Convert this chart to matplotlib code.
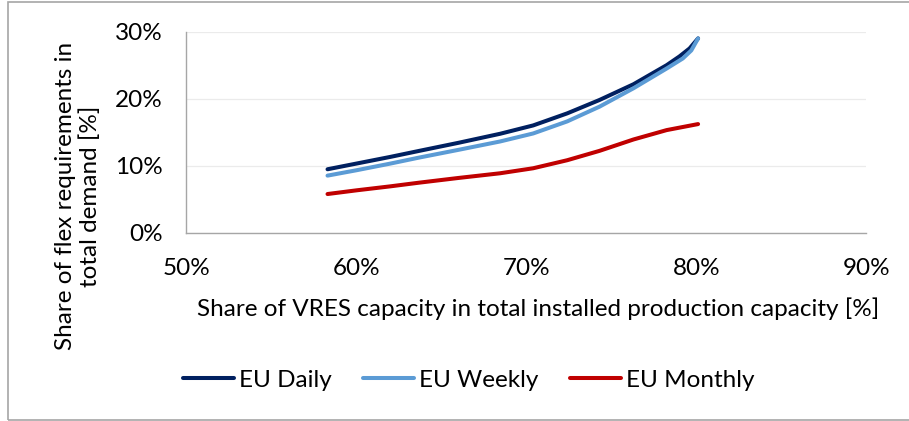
import matplotlib
matplotlib.use("Agg")
import matplotlib.pyplot as plt
from matplotlib.patches import Rectangle
from matplotlib.ticker import FuncFormatter

plt.rcParams['font.family'] = ['Lato', 'DejaVu Sans']

# Data (VRES share %, flex share %)
daily_x = [58.3, 60.0, 62.0, 63.7, 66.0, 68.45, 70.4, 72.4, 74.3, 76.3, 78.25, 79.0, 79.6, 80.1]
daily_y = [9.45, 10.3, 11.3, 12.2, 13.4, 14.75, 16.0, 17.8, 19.8, 22.15, 25.0, 26.3, 27.5, 29.0]

weekly_x = [58.3, 60.0, 62.0, 63.7, 66.0, 68.45, 70.4, 72.4, 74.3, 76.3, 78.25, 79.2, 79.7, 80.1]
weekly_y = [8.5, 9.3, 10.3, 11.2, 12.35, 13.6, 14.8, 16.6, 18.8, 21.55, 24.5, 26.0, 27.2, 29.0]

monthly_x = [58.3, 60.0, 62.0, 63.7, 66.0, 68.45, 70.4, 72.4, 74.3, 76.3, 78.25, 80.1]
monthly_y = [5.75, 6.3, 6.9, 7.45, 8.15, 8.85, 9.6, 10.8, 12.2, 13.9, 15.3, 16.2]

series = [
    ("EU Daily", daily_x, daily_y, "#002060"),
    ("EU Weekly", weekly_x, weekly_y, "#5B9BD5"),
    ("EU Monthly", monthly_x, monthly_y, "#C00000"),
]

x_ticks = [50, 60, 70, 80, 90]
y_ticks = [0, 10, 20, 30]

FS = 17.5

fig = plt.figure(figsize=(9.09, 4.21), dpi=100)
ax = fig.add_axes([0.2051, 0.4477, 0.748, 0.4770])

for name, xs, ys, c in series:
    ax.plot(xs, ys, color=c, lw=2.9, label=name, solid_capstyle='round',
            solid_joinstyle='round')

ax.set_xlim(50, 90)
ax.set_ylim(0, 30)
ax.set_xticks(x_ticks)
ax.set_yticks(y_ticks)
pct = FuncFormatter(lambda v, p: f"{v:.0f}%")
ax.xaxis.set_major_formatter(pct)
ax.yaxis.set_major_formatter(pct)
ax.tick_params(length=0, labelsize=FS, colors="#000000")
ax.tick_params(axis='x', pad=18)
ax.tick_params(axis='y', pad=17)
ax.grid(axis='y', color="#ebebeb", lw=0.9)
ax.set_axisbelow(True)
for s in ['top', 'right']:
    ax.spines[s].set_visible(False)
for s in ['left', 'bottom']:
    ax.spines[s].set_color("#a6a6a6")
    ax.spines[s].set_linewidth(1.0)

ax.set_xlabel("Share of VRES capacity in total installed production capacity [%]",
              fontsize=FS)
ax.xaxis.set_label_coords(0.517, -0.325)
ax.set_ylabel("Share of flex requirements in\ntotal demand [%]", fontsize=FS,
              linespacing=1.15)
ax.yaxis.set_label_coords(-0.126, 0.18)

fig.legend(loc='center', bbox_to_anchor=(0.5154, 0.097), ncol=3, frameon=False,
           fontsize=FS, handlelength=2.1, columnspacing=1.3, handletextpad=0.2)

fig.patches.append(Rectangle((8 / 909, 1 / 421), 1.2, 418 / 421, transform=fig.transFigure,
                             fill=False, edgecolor="#a6a6a6", lw=1.2))

fig.savefig("out.png", dpi=100)
